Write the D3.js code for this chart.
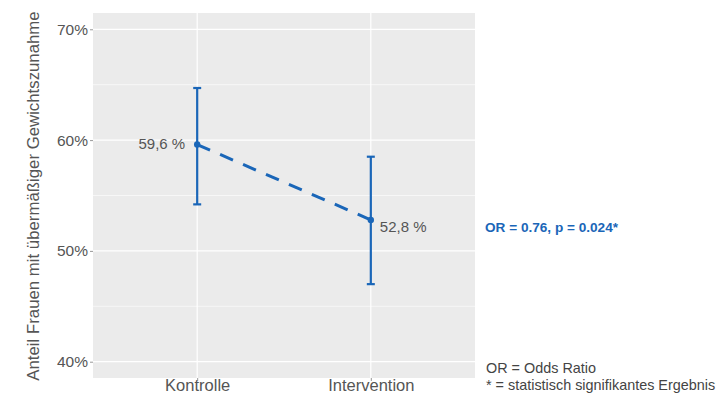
<!DOCTYPE html>
<html>
<head>
<meta charset="utf-8">
<script src="https://cdn.jsdelivr.net/npm/d3@7"></script>
<style>
  html, body { margin: 0; padding: 0; background: #fff; }
  svg { display: block; font-family: "Liberation Sans", Arial, sans-serif; }
</style>
</head>
<body>
<svg id="chart" width="718" height="395"></svg>
<script>
// Proportion of women with excessive gestational weight gain, by group
const groups = ["Kontrolle", "Intervention"];
const estimates = [59.6, 52.8];
const lowerCI = [54.2, 47.0];
const upperCI = [64.7, 58.5];
const valueLabels = ["59,6 %", "52,8 %"];
const yTicks = [40, 50, 60, 70];
const yMinorTicks = [45, 55, 65];
const yTitle = "Anteil Frauen mit übermäßiger Gewichtszunahme";
const statText = "OR = 0.76, p = 0.024*";
const footnotes = ["OR = Odds Ratio", "* = statistisch signifikantes Ergebnis"];

const blue = "#1a66b8";
const svg = d3.select("#chart");
const panel = { left: 93, top: 13, right: 475, bottom: 378 };

const x = d3.scalePoint()
  .domain(groups)
  .range([panel.left, panel.right])
  .padding(0.6);

// y extent with ggplot-like expansion around the data
const y = d3.scaleLinear()
  .domain([38.53, 71.47])
  .range([panel.bottom, panel.top]);

// panel background
svg.append("rect")
  .attr("x", panel.left).attr("y", panel.top)
  .attr("width", panel.right - panel.left)
  .attr("height", panel.bottom - panel.top)
  .attr("fill", "#ebebeb");

// gridlines
const grid = svg.append("g");
grid.selectAll(".minor").data(yMinorTicks).join("line")
  .attr("x1", panel.left).attr("x2", panel.right)
  .attr("y1", d => y(d)).attr("y2", d => y(d))
  .attr("stroke", "#fff").attr("stroke-width", 0.6);
grid.selectAll(".major").data(yTicks).join("line")
  .attr("x1", panel.left).attr("x2", panel.right)
  .attr("y1", d => y(d)).attr("y2", d => y(d))
  .attr("stroke", "#fff").attr("stroke-width", 1.2);
grid.selectAll(".vmajor").data(groups).join("line")
  .attr("x1", d => x(d)).attr("x2", d => x(d))
  .attr("y1", panel.top).attr("y2", panel.bottom)
  .attr("stroke", "#fff").attr("stroke-width", 1.2);

// axes
const yAxis = svg.append("g")
  .attr("transform", `translate(${panel.left},0)`)
  .call(d3.axisLeft(y).tickValues(yTicks).tickFormat(d => d + "%").tickSize(3).tickPadding(2));
yAxis.select(".domain").remove();
yAxis.selectAll(".tick line").attr("stroke", "#999");
yAxis.selectAll(".tick text")
  .attr("fill", "#555").attr("font-size", "15.5px")
  .attr("font-family", "Liberation Sans, Arial, sans-serif");

const xAxis = svg.append("g")
  .attr("transform", `translate(0,${panel.bottom})`)
  .call(d3.axisBottom(x).tickSize(3).tickPadding(0));
xAxis.select(".domain").remove();
xAxis.selectAll(".tick line").attr("stroke", "#999");
xAxis.selectAll(".tick text")
  .attr("y", 1.5)
  .attr("fill", "#555").attr("font-size", "16.5px")
  .attr("font-family", "Liberation Sans, Arial, sans-serif");

// y axis title
svg.append("text")
  .attr("transform", `translate(39,196) rotate(-90)`)
  .attr("text-anchor", "middle")
  .attr("fill", "#555")
  .attr("font-size", "16.8px")
  .text(yTitle);

const data = groups.map((g, i) => ({
  g, est: estimates[i], lo: lowerCI[i], hi: upperCI[i], label: valueLabels[i]
}));

// dashed connecting line
svg.append("path")
  .datum(data)
  .attr("d", d3.line().x(d => x(d.g)).y(d => y(d.est)))
  .attr("fill", "none")
  .attr("stroke", blue)
  .attr("stroke-width", 3)
  .attr("stroke-dasharray", "14,11");

// error bars
const capHalf = 4;
const eb = svg.append("g").attr("stroke", blue).attr("stroke-width", 2.2);
eb.selectAll(".v").data(data).join("line")
  .attr("x1", d => x(d.g)).attr("x2", d => x(d.g))
  .attr("y1", d => y(d.lo)).attr("y2", d => y(d.hi));
eb.selectAll(".capHi").data(data).join("line")
  .attr("x1", d => x(d.g) - capHalf).attr("x2", d => x(d.g) + capHalf)
  .attr("y1", d => y(d.hi)).attr("y2", d => y(d.hi));
eb.selectAll(".capLo").data(data).join("line")
  .attr("x1", d => x(d.g) - capHalf).attr("x2", d => x(d.g) + capHalf)
  .attr("y1", d => y(d.lo)).attr("y2", d => y(d.lo));

// points
svg.selectAll(".pt").data(data).join("circle")
  .attr("cx", d => x(d.g)).attr("cy", d => y(d.est))
  .attr("r", 3.2).attr("fill", blue);

// value labels: left of first point, right of second
svg.selectAll(".vl").data(data).join("text")
  .attr("x", (d, i) => i === 0 ? x(d.g) - 12 : x(d.g) + 9)
  .attr("y", (d, i) => y(d.est) + (i === 0 ? 4 : 12))
  .attr("text-anchor", (d, i) => i === 0 ? "end" : "start")
  .attr("fill", "#555")
  .attr("font-size", "15px")
  .text(d => d.label);

// odds ratio annotation
svg.append("text")
  .attr("x", 485).attr("y", 232)
  .attr("fill", blue)
  .attr("font-weight", "bold")
  .attr("font-size", "13.6px")
  .text(statText);

// footnotes
svg.selectAll(".fn").data(footnotes).join("text")
  .attr("x", 486)
  .attr("y", (d, i) => 373 + i * 17)
  .attr("fill", "#444")
  .attr("font-size", "14.4px")
  .text(d => d);
</script>
</body>
</html>
